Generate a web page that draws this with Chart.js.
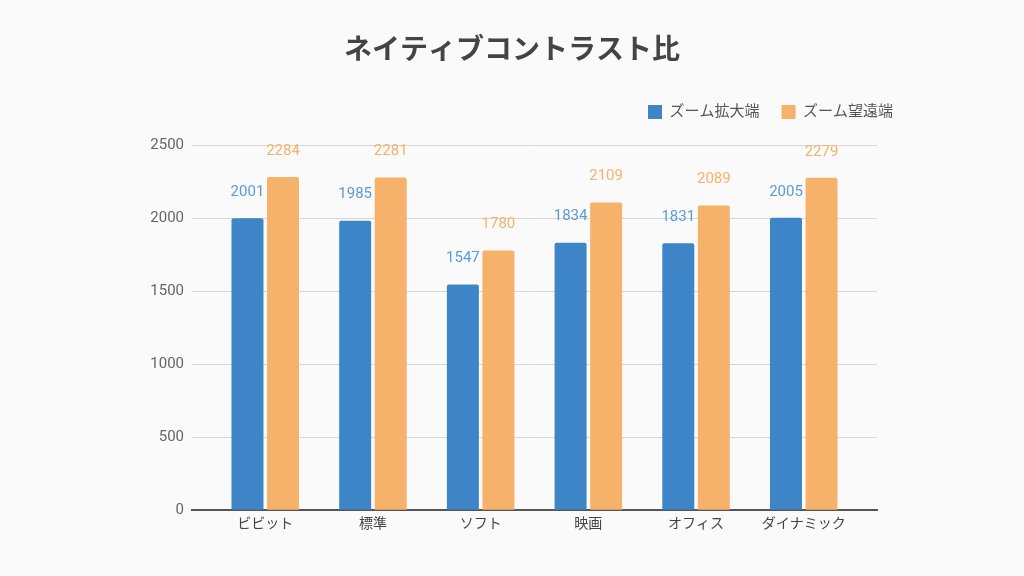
<!DOCTYPE html>
<html>
<head>
<meta charset="utf-8">
<script src="https://cdn.jsdelivr.net/npm/chart.js@4/dist/chart.umd.min.js"></script>
<style>
  html, body { margin: 0; padding: 0; background: #fafafa; }
  canvas { display: block; }
</style>
</head>
<body>
<canvas id="contrastChart" width="1024" height="576"></canvas>
<script>
// chart data
const categories = ['ビビット', '標準', 'ソフト', '映画', 'オフィス', 'ダイナミック'];
const seriesNames = ['ズーム拡大端', 'ズーム望遠端'];
const wideValues = [2001, 1985, 1547, 1834, 1831, 2005];
const teleValues = [2284, 2281, 1780, 2109, 2089, 2279];
const yTicks = [0, 500, 1000, 1500, 2000, 2500];

const barColors = ['#3d85c6', '#f6b26b'];
const labelColors = ['#5b9bd8', '#f6b26b'];
const baseFont = "Roboto, 'Noto Sans CJK JP', sans-serif";

// category axis with a bit more room at both ends than the default offset
class PaddedCategoryScale extends Chart.CategoryScale {
  buildTicks() {
    const ticks = super.buildTicks();
    this._startValue -= 0.18;
    this._valueRange += 0.36;
    return ticks;
  }
}
PaddedCategoryScale.id = 'paddedCategory';
PaddedCategoryScale.defaults = Chart.CategoryScale.defaults;
Chart.register(PaddedCategoryScale);

// value labels above each bar
const valueLabels = {
  id: 'valueLabels',
  afterDatasetsDraw(chart) {
    const ctx = chart.ctx;
    ctx.save();
    ctx.font = '15px ' + baseFont;
    ctx.textAlign = 'center';
    ctx.textBaseline = 'middle';
    chart.data.datasets.forEach((ds, i) => {
      ctx.fillStyle = labelColors[i];
      chart.getDatasetMeta(i).data.forEach((bar, j) => {
        ctx.fillText(String(ds.data[j]), bar.x, bar.y - 26);
      });
    });
    ctx.restore();
  }
};

// empty axes used only as spacers
const spacer = (size) => ({
  grid: { display: false, drawTicks: false },
  border: { display: false },
  ticks: { display: false },
  afterFit: (scale) => {
    if (scale.isHorizontal()) scale.height = size; else scale.width = size;
  }
});

new Chart(document.getElementById('contrastChart'), {
  type: 'bar',
  data: {
    labels: categories,
    datasets: [
      { label: seriesNames[0], data: wideValues, backgroundColor: barColors[0] },
      { label: seriesNames[1], data: teleValues, backgroundColor: barColors[1] }
    ]
  },
  options: {
    responsive: false,
    animation: false,
    layout: { padding: { left: 109, right: 109, top: 0, bottom: 37 } },
    datasets: {
      bar: { categoryPercentage: 0.66, barPercentage: 0.9, borderRadius: 2 }
    },
    scales: {
      x: {
        type: 'paddedCategory',
        grid: { display: false, drawTicks: false },
        border: { display: true, color: '#555', width: 2 },
        ticks: { color: '#444', padding: 6, font: { size: 14, family: baseFont } }
      },
      y: {
        min: 0,
        max: 2500,
        afterBuildTicks: (scale) => { scale.ticks = yTicks.map(v => ({ value: v })); },
        afterFit: (scale) => { scale.width = 83; },
        grid: { color: '#d6d6d6', lineWidth: 1, drawTicks: false },
        border: { display: false },
        ticks: {
          color: '#666',
          padding: 8,
          font: { size: 15, family: baseFont },
          callback: (v) => String(v)
        }
      },
      yRight: Object.assign({ position: 'right' }, spacer(38)),
      xTop: Object.assign({ position: 'top', type: 'linear' }, spacer(16))
    },
    plugins: {
      title: {
        display: true,
        text: 'ネイティブコントラスト比',
        color: '#444',
        font: { size: 28, weight: 'bold', family: baseFont },
        padding: { top: 35, bottom: 14 }
      },
      legend: {
        position: 'top',
        align: 'end',
        labels: {
          color: '#555',
          boxWidth: 14,
          boxHeight: 14,
          padding: 22,
          font: { size: 15, family: baseFont }
        }
      },
      tooltip: { enabled: false }
    }
  },
  plugins: [valueLabels]
});
</script>
</body>
</html>
